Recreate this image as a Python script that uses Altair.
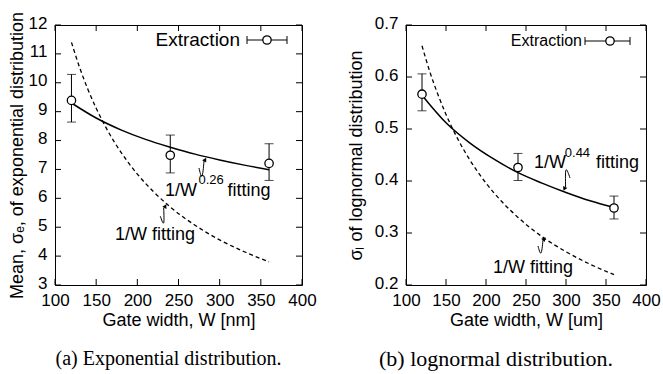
import altair as alt
import pandas as pd

# ---------------- data ----------------
W_pts = [120, 240, 360]
exp_mean = [9.39, 7.49, 7.21]
exp_lo = [8.64, 6.88, 6.62]
exp_hi = [10.29, 8.19, 7.89]

logn_sig = [0.567, 0.426, 0.348]
logn_lo = [0.535, 0.401, 0.327]
logn_hi = [0.606, 0.453, 0.371]

fit_w = [120, 150, 180, 210, 240, 270, 300, 330, 360]
exp_fit_pow = [9.30, 8.78, 8.37, 8.04, 7.77, 7.53, 7.33, 7.15, 6.99]
logn_fit_pow = [0.565, 0.512, 0.473, 0.442, 0.416, 0.396, 0.378, 0.362, 0.349]

inv_w = [120, 130, 140, 150, 165, 180, 200, 220, 240, 270, 300, 330, 360]
exp_fit_inv = [11.4, 10.52, 9.77, 9.12, 8.29, 7.6, 6.84, 6.22, 5.7, 5.07, 4.56, 4.15, 3.8]
logn_fit_inv = [0.66, 0.609, 0.566, 0.528, 0.48, 0.44, 0.396, 0.36, 0.33, 0.293, 0.264, 0.24, 0.22]

x_ticks = [100, 150, 200, 250, 300, 350, 400]
ya_ticks = [3, 4, 5, 6, 7, 8, 9, 10, 11, 12]
yb_ticks = [0.2, 0.3, 0.4, 0.5, 0.6, 0.7]

# annotations (data coordinates)
ann_a_text = ["1/W", "0.26", "fitting", "1/W fitting"]
ann_a_x = [233.6, 274.3, 309.5, 172.9]
ann_a_y = [6.08, 6.48, 6.08, 4.56]
ann_b_text = ["1/W", "0.44", "fitting", "1/W fitting"]
ann_b_x = [260.0, 298.5, 337.5, 208.75]
ann_b_y = [0.425, 0.447, 0.425, 0.223]
ann_size = [18, 13, 18, 18]

arr_a_id = [1, 1, 1, 2, 2, 2]
arr_a_x = [278.5, 274.9, 281.0, 232.0, 227.9, 232.0]
arr_a_y = [6.77, 7.05, 7.29, 5.15, 5.38, 5.67]
head_a_x = [282.0, 233.6]
head_a_y = [7.32, 5.71]
head_a_ang = [30, 30]

arr_b_id = [1, 1, 1, 2, 2, 2]
arr_b_x = [300.0, 305.0, 299.5, 268.75, 265.0, 271.25]
arr_b_y = [0.4212, 0.4058, 0.3885, 0.2615, 0.275, 0.2865]
head_b_x = [298.3, 272.3]
head_b_y = [0.3860, 0.2878]
head_b_ang = [205, 40]

FONT = "Liberation Sans"


def panel(y_vals, lo, hi, fit_pow, fit_inv, ydom, yticks, ytitle, xtitle,
          ann_text, ann_x, ann_y, arr_id, arr_x, arr_y, hx, hy, hang,
          width, height, leg_fs, leg_text_x, leg_sym, caption, cap_fs, cap_dx,
          ytitle_pad):
    X = lambda f: alt.X(f, type="quantitative",
                        scale=alt.Scale(domain=[100, 400], nice=False, zero=False),
                        axis=alt.Axis(values=x_ticks, title=xtitle, ticks=False, domain=False,
                                      grid=False, labelPadding=7, titlePadding=3, format="d",
                                      labelFlush=False, labelOverlap=False))
    Y = lambda f: alt.Y(f, type="quantitative",
                        scale=alt.Scale(domain=ydom, nice=False, zero=False),
                        axis=alt.Axis(values=yticks, title=ytitle, ticks=False, domain=False,
                                      grid=False, labelPadding=8, titlePadding=ytitle_pad,
                                      labelFlush=False, labelOverlap=False, labelOffset=-2))

    pts = pd.DataFrame({"x": W_pts, "y": y_vals, "lo": lo, "hi": hi})
    fp = pd.DataFrame({"x": fit_w, "y": fit_pow})
    fi = pd.DataFrame({"x": inv_w, "y": fit_inv})
    ann = pd.DataFrame({"x": ann_x, "y": ann_y, "t": ann_text, "s": ann_size})
    arr = pd.DataFrame({"x": arr_x, "y": arr_y, "id": arr_id})
    heads = pd.DataFrame({"x": hx, "y": hy, "a": hang})
    xt = pd.DataFrame({"x": x_ticks})
    yt = pd.DataFrame({"y": yticks})
    one = pd.DataFrame({"x": [0]})

    inv_line = alt.Chart(fi).mark_line(color="black", strokeWidth=1.3, strokeDash=[4, 3],
                                       interpolate="monotone").encode(x=X("x"), y=Y("y"))
    pow_line = alt.Chart(fp).mark_line(color="black", strokeWidth=1.5,
                                       interpolate="monotone").encode(x=X("x"), y=Y("y"))
    err = alt.Chart(pts).mark_rule(color="black", strokeWidth=1).encode(x=X("x"), y=Y("lo"), y2="hi")
    cap_hi = alt.Chart(pts).mark_tick(color="black", orient="horizontal", size=9,
                                      thickness=1).encode(x=X("x"), y=Y("hi"))
    cap_lo = alt.Chart(pts).mark_tick(color="black", orient="horizontal", size=9,
                                      thickness=1).encode(x=X("x"), y=Y("lo"))
    dots = alt.Chart(pts).mark_point(shape="circle", size=70, color="black", fill="white",
                                     filled=False, fillOpacity=1, strokeWidth=1.3,
                                     opacity=1).encode(x=X("x"), y=Y("y"))
    texts = alt.Chart(ann).mark_text(align="left", baseline="alphabetic", font=FONT,
                                     color="black").encode(
        x=X("x"), y=Y("y"), text="t:N", size=alt.Size("s:Q", scale=None, legend=None))
    arrows = alt.Chart(arr).mark_line(color="black", strokeWidth=1,
                                      interpolate="natural").encode(x=X("x"), y=Y("y"), detail="id:N")
    ahead = alt.Chart(heads).mark_point(shape="triangle", filled=True, color="black", size=22,
                                        opacity=1).encode(
        x=X("x"), y=Y("y"), angle=alt.Angle("a:Q", scale=None))

    tl = 6
    t_bot = alt.Chart(xt).mark_rule(color="black").encode(x=X("x"), y=alt.value(height - tl), y2=alt.value(height))
    t_top = alt.Chart(xt).mark_rule(color="black").encode(x=X("x"), y=alt.value(0), y2=alt.value(tl))
    t_left = alt.Chart(yt).mark_rule(color="black").encode(y=Y("y"), x=alt.value(0), x2=alt.value(tl))
    t_right = alt.Chart(yt).mark_rule(color="black").encode(y=Y("y"), x=alt.value(width - tl), x2=alt.value(width))

    # legend
    lx0, lx1, lxc, ly = leg_sym
    leg_text = alt.Chart(one).mark_text(text="Extraction", align="right", baseline="middle",
                                        font=FONT, fontSize=leg_fs, color="black").encode(
        x=alt.value(leg_text_x), y=alt.value(ly))
    leg_line = alt.Chart(one).mark_rule(color="black").encode(x=alt.value(lx0), x2=alt.value(lx1), y=alt.value(ly))
    leg_c1 = alt.Chart(one).mark_rule(color="black").encode(x=alt.value(lx0), y=alt.value(ly - 4), y2=alt.value(ly + 4))
    leg_c2 = alt.Chart(one).mark_rule(color="black").encode(x=alt.value(lx1), y=alt.value(ly - 4), y2=alt.value(ly + 4))
    leg_pt = alt.Chart(one).mark_point(shape="circle", size=70, color="black", fill="white",
                                       fillOpacity=1, strokeWidth=1.3, opacity=1).encode(
        x=alt.value(lxc), y=alt.value(ly))

    return alt.layer(
        t_bot, t_top, t_left, t_right,
        inv_line, pow_line, err, cap_hi, cap_lo, dots, texts, arrows, ahead,
        leg_line, leg_c1, leg_c2, leg_pt, leg_text,
    ).properties(
        width=width, height=height,
        title=alt.TitleParams(caption, orient="bottom", font="Liberation Serif", fontSize=cap_fs,
                              fontWeight="normal", color="black", offset=20, dx=cap_dx,
                              anchor="middle", frame="group"),
    )


left = panel(exp_mean, exp_lo, exp_hi, exp_fit_pow, exp_fit_inv, [3, 12], ya_ticks,
             "Mean, σₑ, of exponential distribution", "Gate width, W [nm]",
             ann_a_text, ann_a_x, ann_a_y, arr_a_id, arr_a_x, arr_a_y,
             head_a_x, head_a_y, head_a_ang, 247, 260, 19, 185, (192, 232, 212, 15),
             "(a) Exponential distribution.", 20, -10, 2)

right = panel(logn_sig, logn_lo, logn_hi, logn_fit_pow, logn_fit_inv, [0.2, 0.7], yb_ticks,
              "σₗ of lognormal distribution", "Gate width, W [um]",
              ann_b_text, ann_b_x, ann_b_y, arr_b_id, arr_b_x, arr_b_y,
              head_b_x, head_b_y, head_b_ang, 240, 260, 16, 176, (179, 224, 204, 16),
              "(b) lognormal distribution.", 22, -30, 9)

chart = alt.hconcat(left, right, spacing=29).properties(
    padding={"left": 7, "top": 11, "right": 0, "bottom": 5},
    background="white",
).configure_view(
    stroke="black", strokeWidth=1
).configure_axis(
    labelFont=FONT, labelFontSize=17, labelColor="black",
    titleFont=FONT, titleFontSize=18, titleFontWeight="normal", titleColor="black",
)

chart.save("out.html", embed_options={"renderer": "svg", "actions": False})
